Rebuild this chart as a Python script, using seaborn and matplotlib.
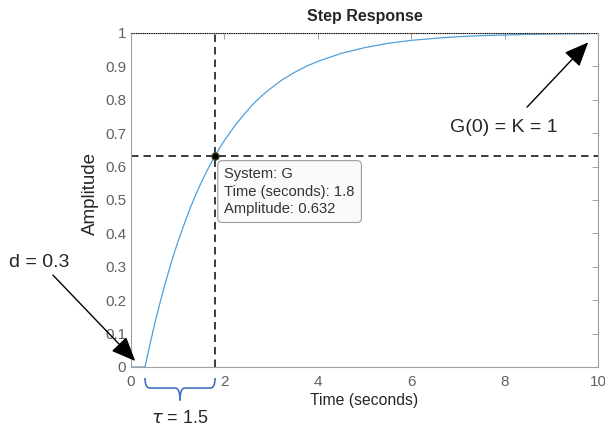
import matplotlib
matplotlib.use("Agg")
import matplotlib.pyplot as plt
from matplotlib.path import Path
from matplotlib.patches import PathPatch
import pandas as pd
import seaborn as sns

# step response (time in s, amplitude)
time_s = [0.0, 0.3, 0.4, 0.5, 0.6, 0.7, 0.8, 0.9, 1.0, 1.1, 1.2, 1.3, 1.4,
          1.5, 1.6, 1.7, 1.8, 1.9, 2.0, 2.2, 2.4, 2.6, 2.8, 3.0, 3.25, 3.5,
          3.75, 4.0, 4.5, 5.0, 5.5, 6.0, 6.5, 7.0, 7.5, 8.0, 8.5, 9.0, 9.8]
amplitude = [0.0, 0.0, 0.064, 0.125, 0.181, 0.234, 0.283, 0.330, 0.373,
             0.413, 0.451, 0.487, 0.520, 0.551, 0.580, 0.607, 0.632, 0.656,
             0.678, 0.718, 0.753, 0.785, 0.812, 0.835, 0.861, 0.882, 0.900,
             0.915, 0.939, 0.956, 0.969, 0.978, 0.984, 0.989, 0.992, 0.994,
             0.996, 0.997, 0.998]

tip_time = 1.8
tip_amp = 0.632
delay = 0.3
steady = 1.0

x_ticks = [0, 2, 4, 6, 8, 10]
y_ticks = [0, 0.1, 0.2, 0.3, 0.4, 0.5, 0.6, 0.7, 0.8, 0.9, 1]
y_ticklabels = ["0", "0.1", "0.2", "0.3", "0.4", "0.5", "0.6", "0.7", "0.8", "0.9", "1"]

df = pd.DataFrame({"Time (seconds)": time_s, "Amplitude": amplitude})

sns.set_style("white")
plt.rcParams["font.family"] = ["Liberation Sans", "DejaVu Sans"]

fig = plt.figure(figsize=(6.05, 4.34), dpi=100)
ax = fig.add_axes([131 / 605, 1 - 367 / 434, (598 - 131) / 605, (367 - 33) / 434])

sns.lineplot(data=df, x="Time (seconds)", y="Amplitude", ax=ax,
             color="#4f9fdc", linewidth=0.9)

# steady state and data tip guides
ax.axhline(steady, color="black", linestyle=(0, (1, 1)), linewidth=0.8, zorder=3)
ax.axhline(tip_amp, color="#1a1a1a", linestyle=(0, (4.5, 3)), linewidth=1.2)
ax.axvline(tip_time, color="#1a1a1a", linestyle=(0, (4.5, 3)), linewidth=1.2)
ax.plot([tip_time], [tip_amp], "o", color="black", mec="#3a3a20",
        markersize=5, zorder=5)

ax.set_xlim(0, 10)
ax.set_ylim(0, 1)
ax.set_xticks(x_ticks)
ax.set_xticklabels([str(v) for v in x_ticks])
ax.set_yticks(y_ticks)
ax.set_yticklabels(y_ticklabels)

for s in ax.spines.values():
    s.set_color("#a0a0a0")
    s.set_linewidth(0.8)
ax.tick_params(direction="in", length=4, width=0.7, color="#a0a0a0",
               labelcolor="#606060", labelsize=11, top=True, right=True)
ax.tick_params(axis="x", pad=6)

ax.set_title("Step Response", fontsize=11.5, fontweight="bold", pad=9)
ax.set_xlabel("Time (seconds)", fontsize=11.3, labelpad=3)
ax.set_ylabel("Amplitude", fontsize=13.5)
ax.yaxis.set_label_coords(-0.068, 0.52)

# data tip box
ax.text(2.0, 0.598, "System: G\nTime (seconds): 1.8\nAmplitude: 0.632",
        fontsize=10.6, color="#333333", va="top", ha="left", linespacing=1.3,
        bbox=dict(boxstyle="round,pad=0.45,rounding_size=0.3",
                  fc="#fafafd", ec="#9a9a9a", lw=0.8), zorder=6)

# annotations
ax.annotate("", xy=(0.09, 0.018), xytext=(-1.67, 0.275), annotation_clip=False,
            arrowprops=dict(arrowstyle="-|>,head_length=0.75,head_width=0.32",
                            mutation_scale=20, color="black", lw=1.0,
                            shrinkA=0, shrinkB=0))
ax.text(-1.97, 0.314, "d = 0.3", fontsize=14, ha="center", va="center",
        clip_on=False)

ax.annotate("", xy=(9.79, 0.972), xytext=(8.48, 0.778), annotation_clip=False,
            arrowprops=dict(arrowstyle="-|>,head_length=0.75,head_width=0.32",
                            mutation_scale=20, color="black", lw=1.0,
                            shrinkA=0, shrinkB=0))
ax.text(7.99, 0.716, "G(0) = K = 1", fontsize=14, ha="center", va="center")

# curly brace for tau under the axis
mid = (delay + tip_time) / 2
y0, y1, y2 = -0.033, -0.063, -0.1
verts = [(delay, y0), (delay, y1), (delay + 0.1, y1), (mid - 0.1, y1),
         (mid, y1), (mid, y2),
         (tip_time, y0), (tip_time, y1), (tip_time - 0.1, y1), (mid + 0.1, y1),
         (mid, y1), (mid, y2)]
codes = [Path.MOVETO, Path.CURVE3, Path.CURVE3, Path.LINETO, Path.CURVE3, Path.CURVE3,
         Path.MOVETO, Path.CURVE3, Path.CURVE3, Path.LINETO, Path.CURVE3, Path.CURVE3]
ax.add_patch(PathPatch(Path(verts, codes), fill=False, ec="#4472c4", lw=1.2,
                       clip_on=False))
ax.text(mid, -0.153, r"$\tau$ = 1.5", fontsize=13, ha="center", va="center",
        clip_on=False)

fig.savefig("out.png", dpi=100)
